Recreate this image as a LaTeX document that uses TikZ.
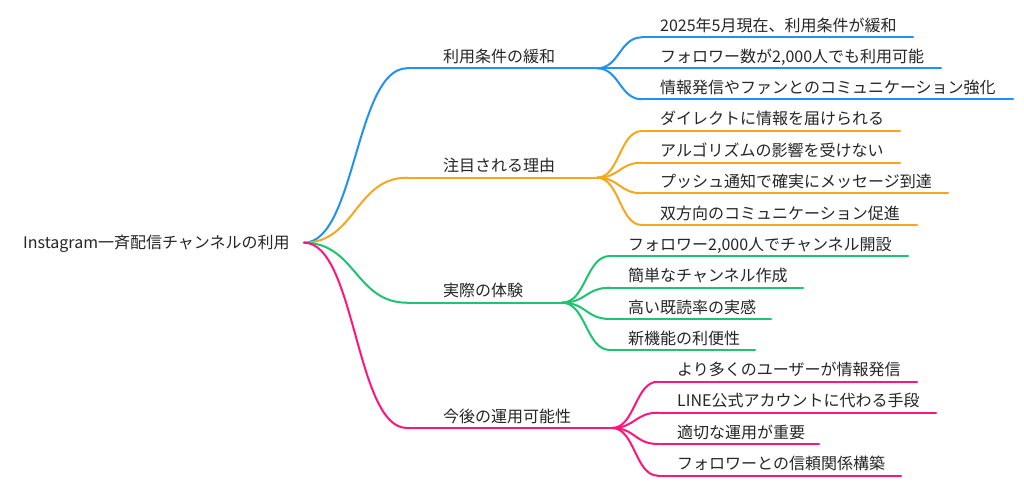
\documentclass[tikz,border=0pt]{standalone}
\usepackage{fontspec}
\setmainfont{Noto Sans CJK JP}
\usetikzlibrary{calc}
\definecolor{cblue}{RGB}{33,146,245}
\definecolor{corange}{RGB}{245,168,30}
\definecolor{cgreen}{RGB}{30,196,112}
\definecolor{cpink}{RGB}{255,22,125}
\newcommand\mmlink[3]{\draw[#3] let \p1=(#1), \p2=(#2) in (#1) .. controls ({(\x1+\x2)/2},\y1) and ({(\x1+\x2)/2},\y2) .. (#2);}
\begin{document}
\begin{tikzpicture}[x=1pt,y=-1pt,
  lnk/.style={line width=2pt,line cap=round},
  lbl/.style={anchor=base west,inner sep=0pt,font=\fontsize{16}{19}\selectfont,text=black!85}]
\useasboundingbox[fill=white] (0,0) rectangle (1024,486);
% root
\node[lbl] (root) at (23,248.7) {Instagram一斉配信チャンネルの利用};
\coordinate (r) at (304,242.7);
% ---------- blue
\coordinate (b1s) at (407,68.3); \coordinate (b1e) at (597,68.3);
\node[lbl] (b1) at (443,62.3) {利用条件の緩和};
\mmlink{r}{b1s}{lnk,cblue}
\draw[lnk,cblue] (b1s) -- (b1e);
\foreach \k/\yv/\ev/\tv in {1/37.3/913/2025年5月現在、利用条件が緩和,
  2/68.3/941/フォロワー数が2{,}000人でも利用可能,
  3/99.3/1013/情報発信やファンとのコミュニケーション強化}{
  \coordinate (b1c\k s) at (642,\yv); \coordinate (b1c\k e) at (\ev,\yv);
  \node[lbl] (b1t\k) at (660,\yv-6) {\tv};
  \mmlink{b1e}{b1c\k s}{lnk,cblue}
  \draw[lnk,cblue] (b1c\k s) -- (b1c\k e);
}
% ---------- orange
\coordinate (b2s) at (407,177.7); \coordinate (b2e) at (597,177.7);
\node[lbl] (b2) at (443,171.7) {注目される理由};
\mmlink{r}{b2s}{lnk,corange}
\draw[lnk,corange] (b2s) -- (b2e);
\foreach \k/\yv/\ev/\tv in {1/131/900/ダイレクトに情報を届けられる,
  2/162.7/900/アルゴリズムの影響を受けない,
  3/193.3/948/プッシュ通知で確実にメッセージ到達,
  4/225/917/双方向のコミュニケーション促進}{
  \coordinate (b2c\k s) at (642,\yv); \coordinate (b2c\k e) at (\ev,\yv);
  \node[lbl] (b2t\k) at (660,\yv-6) {\tv};
  \mmlink{b2e}{b2c\k s}{lnk,corange}
  \draw[lnk,corange] (b2c\k s) -- (b2c\k e);
}
% ---------- green
\coordinate (b3s) at (407,302.7); \coordinate (b3e) at (562,302.7);
\node[lbl] (b3) at (443,296.7) {実際の体験};
\mmlink{r}{b3s}{lnk,cgreen}
\draw[lnk,cgreen] (b3s) -- (b3e);
\foreach \k/\yv/\ev/\tv in {1/256/908/フォロワー2{,}000人でチャンネル開設,
  2/287.7/803/簡単なチャンネル作成,
  3/319/771/高い既読率の実感,
  4/350/755/新機能の利便性}{
  \coordinate (b3c\k s) at (610,\yv); \coordinate (b3c\k e) at (\ev,\yv);
  \node[lbl] (b3t\k) at (628,\yv-6) {\tv};
  \mmlink{b3e}{b3c\k s}{lnk,cgreen}
  \draw[lnk,cgreen] (b3c\k s) -- (b3c\k e);
}
% ---------- pink
\coordinate (b4s) at (407,428); \coordinate (b4e) at (612,428);
\node[lbl] (b4) at (443,422) {今後の運用可能性};
\mmlink{r}{b4s}{lnk,cpink}
\draw[lnk,cpink] (b4s) -- (b4e);
\foreach \k/\yv/\ev/\tv in {1/381.7/917/より多くのユーザーが情報発信,
  2/412.7/936/LINE公式アカウントに代わる手段,
  3/444/819/適切な運用が重要,
  4/475.7/901/フォロワーとの信頼関係構築}{
  \coordinate (b4c\k s) at (658,\yv); \coordinate (b4c\k e) at (\ev,\yv);
  \node[lbl] (b4t\k) at (677,\yv-6) {\tv};
  \mmlink{b4e}{b4c\k s}{lnk,cpink}
  \draw[lnk,cpink] (b4c\k s) -- (b4c\k e);
}
\end{tikzpicture}
\end{document}
